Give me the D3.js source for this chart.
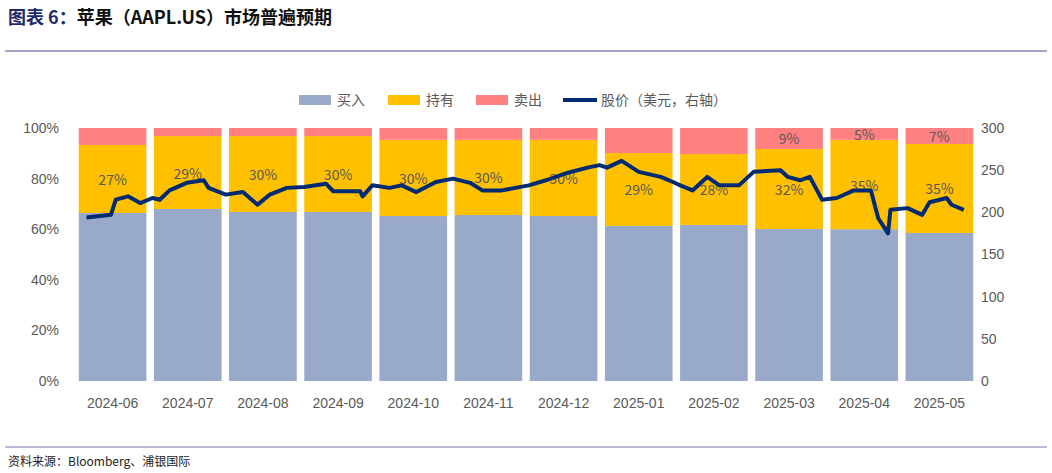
<!DOCTYPE html>
<html><head><meta charset="utf-8">
<script src="https://cdn.jsdelivr.net/npm/d3@7"></script>
<style>body{margin:0;background:#fff;}svg{display:block;font-family:"Noto Sans CJK SC","Liberation Sans",sans-serif;}</style>
</head><body>
<svg id="chart" width="1052" height="473"></svg>
<script>
// months on the x axis
var months = ["2024-06","2024-07","2024-08","2024-09","2024-10","2024-11","2024-12","2025-01","2025-02","2025-03","2025-04","2025-05"];
// analyst ratings, percent
var buy  = [66.4, 68.0, 66.8, 66.8, 65.2, 65.6, 65.2, 61.3, 61.7, 60.1, 60.0, 58.5];
var hold = [26.9, 28.8, 30.0, 30.0, 30.1, 29.7, 30.1, 28.8, 28.0, 31.6, 35.3, 35.2];
var sell = [6.7, 3.2, 3.2, 3.2, 4.7, 4.7, 4.7, 9.9, 10.3, 8.3, 4.7, 6.3];
var holdLabels = ["27%","29%","30%","30%","30%","30%","30%","29%","28%","32%","35%","35%"];
var sellLabels = ["","","","","","","","","","9%","5%","7%"];
// share price, USD
var priceDates = ["2024-06-02","2024-06-12","2024-06-14","2024-06-19","2024-06-24","2024-06-29","2024-07-02","2024-07-06","2024-07-13","2024-07-20","2024-07-22","2024-07-29","2024-08-05","2024-08-11","2024-08-16","2024-08-23","2024-08-30","2024-09-08","2024-09-11","2024-09-22","2024-09-23","2024-09-27","2024-10-04","2024-10-09","2024-10-15","2024-10-23","2024-10-30","2024-11-06","2024-11-11","2024-11-19","2024-11-30","2024-12-07","2024-12-16","2024-12-24","2024-12-29","2025-01-01","2025-01-07","2025-01-14","2025-01-23","2025-01-28","2025-01-31","2025-02-05","2025-02-11","2025-02-16","2025-02-24","2025-03-02","2025-03-13","2025-03-16","2025-03-21","2025-03-25","2025-03-30","2025-04-05","2025-04-12","2025-04-19","2025-04-22","2025-04-26","2025-04-27","2025-05-04","2025-05-10","2025-05-13","2025-05-20","2025-05-22","2025-05-27"];
var price = [194,197,215,219,211,217,215,226,235,238,229,221,224,209,221,229,230,234,225,225,219,232,229,232,224,236,240,235,226,226,232,238,247,253,256,253,261,248,242,236,232,226,242,232,232,248,250,242,238,242,215,217,226,226,193,175,203,205,197,212,217,209,203];
var yTicks = [0,20,40,60,80,100];
var y2Ticks = [0,50,100,150,200,250,300];

var svg = d3.select("#chart");
var plotTop = 128, plotBottom = 381;

// title
var title = svg.append("text").attr("x", 8).attr("y", 24).style("font-size", "18px").style("font-weight", "bold");
title.append("tspan").attr("fill", "#1F2A6B").text("图表 6：");
title.append("tspan").attr("fill", "#111").text("苹果（AAPL.US）市场普遍预期");
svg.append("line").attr("x1", 5).attr("x2", 1047).attr("y1", 51).attr("y2", 51).attr("stroke", "#A3A6C8").attr("stroke-width", 2);
svg.append("line").attr("x1", 5).attr("x2", 1047).attr("y1", 447).attr("y2", 447).attr("stroke", "#A3A6C8").attr("stroke-width", 1.5);
svg.append("text").attr("x", 8).attr("y", 466).style("font-size", "12px").attr("fill", "#222").text("资料来源：Bloomberg、浦银国际");

var x = d3.scaleBand().domain(months).range([75, 977]).paddingInner(0.1).paddingOuter(0.05);
var y = d3.scaleLinear().domain([0, 100]).range([plotBottom, plotTop]);
var y2 = d3.scaleLinear().domain([0, 300]).range([plotBottom, plotTop]);
var xt = d3.scaleTime().domain([new Date(2024,5,1), new Date(2025,5,1)]).range([84, 976]);

var stackData = months.map(function(m, i) { return {m: m, buy: buy[i], hold: hold[i], sell: sell[i]}; });
var series = d3.stack().keys(["buy","hold","sell"])(stackData);
var colors = {buy: "#98A9C9", hold: "#FFC000", sell: "#FF8080"};

svg.append("g").selectAll("g").data(series).enter().append("g")
  .attr("fill", function(d) { return colors[d.key]; })
  .selectAll("rect").data(function(d) { return d; }).enter().append("rect")
  .attr("x", function(d) { return x(d.data.m); })
  .attr("width", x.bandwidth())
  .attr("y", function(d) { return y(d[1]); })
  .attr("height", function(d) { return y(d[0]) - y(d[1]); });

// labels
svg.append("g").selectAll("text").data(months).enter().append("text")
  .attr("x", function(d) { return x(d) + x.bandwidth() / 2; })
  .attr("y", function(d, i) { return y(buy[i] + hold[i] / 2) + 6; })
  .attr("text-anchor", "middle").style("font-size", "14px").attr("fill", "#595959")
  .text(function(d, i) { return holdLabels[i]; });
svg.append("g").selectAll("text").data(months).enter().append("text")
  .attr("x", function(d) { return x(d) + x.bandwidth() / 2; })
  .attr("y", function(d, i) { return y(100 - sell[i] / 2) + 6; })
  .attr("text-anchor", "middle").style("font-size", "14px").attr("fill", "#595959")
  .text(function(d, i) { return sellLabels[i]; });

// price line
var parse = d3.timeParse("%Y-%m-%d");
var line = d3.line()
  .x(function(d, i) { return xt(parse(priceDates[i])); })
  .y(function(d) { return y2(d); });
svg.append("path").datum(price).attr("d", line).attr("fill", "none")
  .attr("stroke", "#002B73").attr("stroke-width", 4).attr("stroke-linejoin", "round");

// axes
function styleAxis(g) {
  g.select(".domain").remove();
  g.selectAll(".tick line").remove();
  g.selectAll("text").attr("fill", "#595959").style("font-size", "14px").style("font-family", "'Liberation Sans', sans-serif");
}
svg.append("g").attr("transform", "translate(62,0)")
  .call(d3.axisLeft(y).tickValues(yTicks).tickFormat(function(d) { return d + "%"; }).tickSize(0))
  .call(styleAxis);
svg.append("g").attr("transform", "translate(978,0)")
  .call(d3.axisRight(y2).tickValues(y2Ticks).tickSize(0))
  .call(styleAxis);
svg.append("g").attr("transform", "translate(0," + (plotBottom + 14) + ")")
  .call(d3.axisBottom(x).tickSize(0))
  .call(styleAxis);

// legend
var legend = [
  {label: "买入", color: colors.buy, type: "rect", x: 299},
  {label: "持有", color: colors.hold, type: "rect", x: 388},
  {label: "卖出", color: colors.sell, type: "rect", x: 476},
  {label: "股价（美元，右轴）", color: "#002B73", type: "line", x: 563}
];
var lg = svg.append("g").selectAll("g").data(legend).enter().append("g")
  .attr("transform", function(d) { return "translate(" + d.x + ",100)"; });
lg.filter(function(d) { return d.type == "rect"; }).append("rect")
  .attr("x", 0).attr("y", -5).attr("width", 32).attr("height", 10).attr("fill", function(d) { return d.color; });
lg.filter(function(d) { return d.type == "line"; }).append("line")
  .attr("x1", 0).attr("x2", 34).attr("y1", 0).attr("y2", 0).attr("stroke", function(d) { return d.color; }).attr("stroke-width", 4);
lg.append("text").attr("x", 38).attr("y", 5).style("font-size", "14px").attr("fill", "#595959")
  .text(function(d) { return d.label; });
</script>
</body></html>
